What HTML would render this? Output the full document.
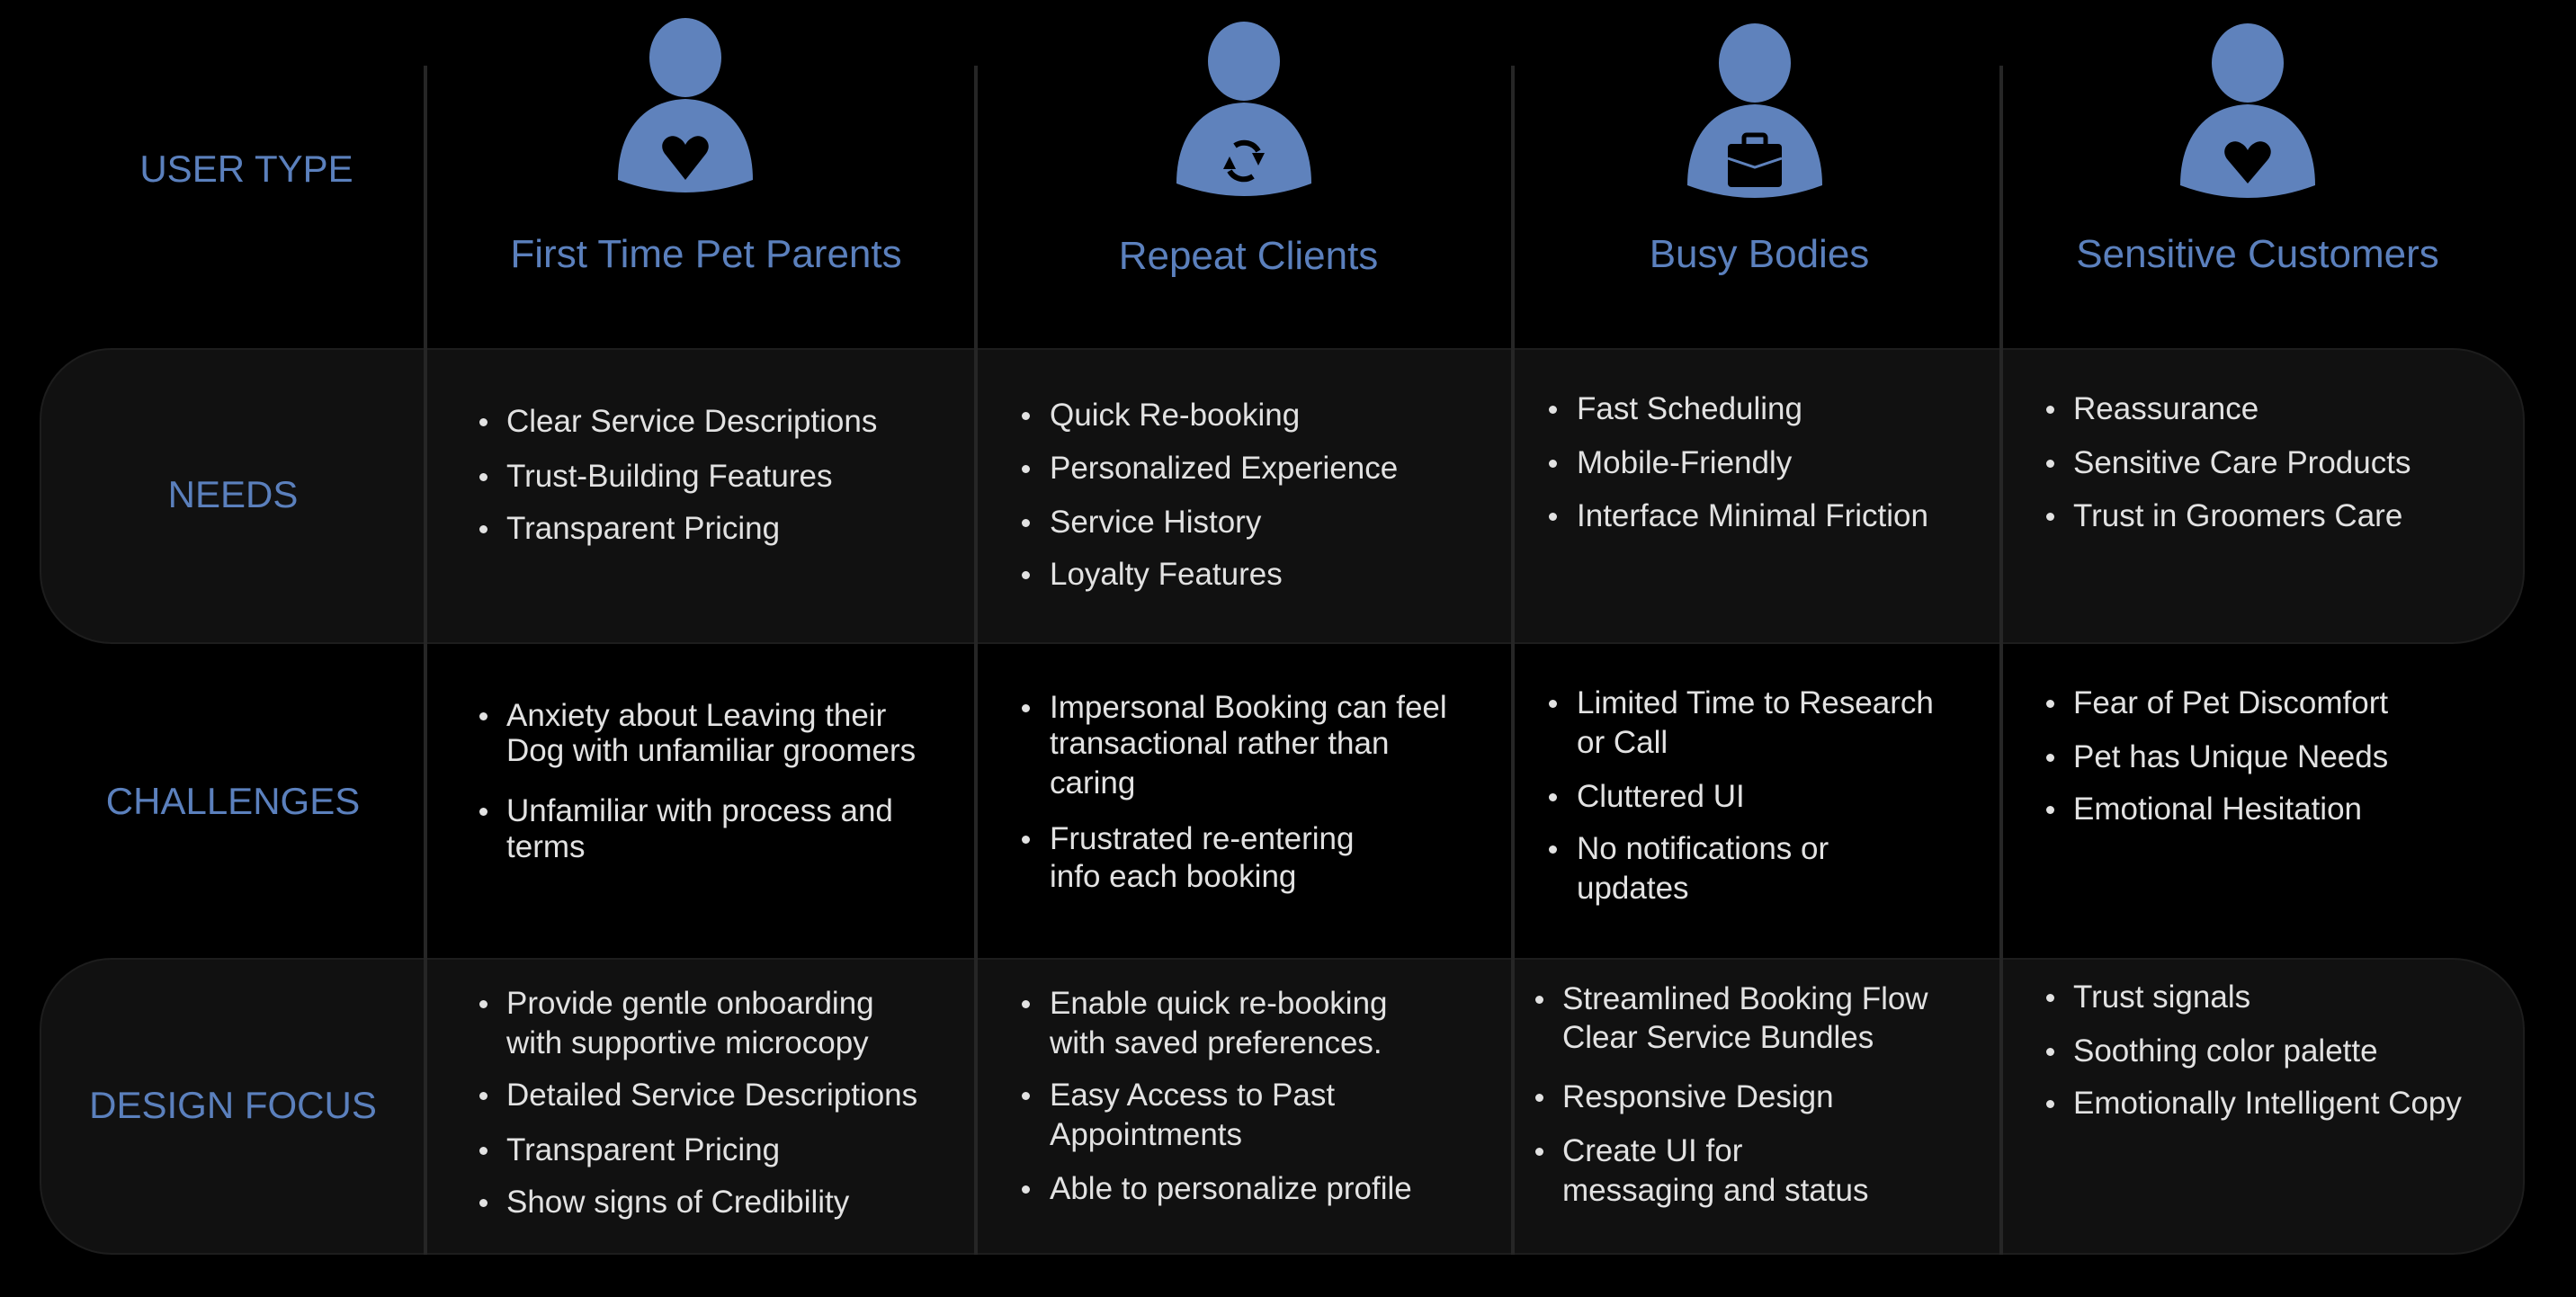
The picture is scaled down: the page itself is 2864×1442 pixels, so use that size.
<!DOCTYPE html>
<html><head><meta charset="utf-8"><style>
*{margin:0;padding:0;box-sizing:border-box}
body{width:2864px;height:1442px;background:#000;position:relative;overflow:hidden;font-family:"Liberation Sans",sans-serif}
.panel{position:absolute;left:44px;width:2763px;background:#111;border:2px solid #1d1d1d;border-radius:80px}
.vl{position:absolute;width:4px;background:#262626;top:73px;height:1322px}
.lab{position:absolute;color:#5b80bd;font-size:42px;transform:translate(-50%,-50%);white-space:nowrap}
.nm{position:absolute;color:#5b80bd;font-size:44px;transform:translate(-50%,-50%);white-space:nowrap}
.t{position:absolute;color:#e2e2e2;font-size:35px;height:50px;line-height:50px;white-space:nowrap}
.b{position:absolute;width:9px;height:9px;border-radius:50%;background:#e2e2e2}
</style></head><body>
<div class="panel" style="top:387px;height:329px"></div>
<div class="panel" style="top:1065px;height:330px"></div>
<div class="vl" style="left:471px"></div>
<div class="vl" style="left:1083px"></div>
<div class="vl" style="left:1680px"></div>
<div class="vl" style="left:2223px"></div>

<div class="lab" style="left:274px;top:188px">USER TYPE</div>
<div class="lab" style="left:259px;top:550px">NEEDS</div>
<div class="lab" style="left:259px;top:891px">CHALLENGES</div>
<div class="lab" style="left:259px;top:1229px">DESIGN FOCUS</div>

<svg width="2864" height="240" style="position:absolute;left:0;top:0">
<defs><g id="p"><ellipse cx="0" cy="64" rx="40" ry="44" fill="#5f82bc"/><path d="M-75,200 C-75,150 -50,112 0,110 C50,112 75,150 75,200 Q0,228 -75,200Z" fill="#5f82bc"/></g></defs>
<use href="#p" x="762" y="0"/>
<path d="M762,200 L740,172 C730,160 742,148 752,152 C757,154 760,157 762,161 C764,157 767,154 772,152 C782,148 794,160 784,172Z" fill="#000"/>
<use href="#p" x="1383" y="4"/>
<g fill="none" stroke="#000" stroke-width="6"><path d="M1373,162 A18,18 0 0 1 1399,168"/><path d="M1393,196 A18,18 0 0 1 1367,190"/></g>
<path d="M1392,170 L1406,170 L1399,184Z M1360,188 L1374,188 L1367,174Z" fill="#000"/>
<use href="#p" x="1951" y="6"/>
<rect x="1921" y="160" width="60" height="48" rx="4" fill="#000"/><rect x="1939" y="150" width="24" height="14" rx="3" fill="none" stroke="#000" stroke-width="5"/><path d="M1921,176 L1951,186 L1981,176" stroke="#5f82bc" stroke-width="3" fill="none"/>
<use href="#p" x="2499" y="6"/>
<path d="M2499,204 L2477,178 C2467,166 2479,154 2489,158 C2494,160 2497,163 2499,167 C2501,163 2504,160 2509,158 C2519,154 2531,166 2521,178Z" fill="#000"/>
</svg>

<div class="nm" style="left:785px;top:283px">First Time Pet Parents</div>
<div class="nm" style="left:1388px;top:285px">Repeat Clients</div>
<div class="nm" style="left:1956px;top:283px">Busy Bodies</div>
<div class="nm" style="left:2510px;top:283px">Sensitive Customers</div>

<!-- col1 -->
<div class="b" style="left:533px;top:465px"></div><div class="t" style="left:563px;top:444px">Clear Service Descriptions</div>
<div class="b" style="left:533px;top:526px"></div><div class="t" style="left:563px;top:505px">Trust-Building Features</div>
<div class="b" style="left:533px;top:584px"></div><div class="t" style="left:563px;top:563px">Transparent Pricing</div>
<div class="b" style="left:533px;top:792px"></div><div class="t" style="left:563px;top:771px">Anxiety about Leaving their</div>
<div class="t" style="left:563px;top:810px">Dog with unfamiliar groomers</div>
<div class="b" style="left:533px;top:898px"></div><div class="t" style="left:563px;top:877px">Unfamiliar with process and</div>
<div class="t" style="left:563px;top:917px">terms</div>
<div class="b" style="left:533px;top:1112px"></div><div class="t" style="left:563px;top:1091px">Provide gentle onboarding</div>
<div class="t" style="left:563px;top:1135px">with supportive microcopy</div>
<div class="b" style="left:533px;top:1214px"></div><div class="t" style="left:563px;top:1193px">Detailed Service Descriptions</div>
<div class="b" style="left:533px;top:1275px"></div><div class="t" style="left:563px;top:1254px">Transparent Pricing</div>
<div class="b" style="left:533px;top:1333px"></div><div class="t" style="left:563px;top:1312px">Show signs of Credibility</div>
<!-- col2 -->
<div class="b" style="left:1136px;top:458px"></div><div class="t" style="left:1167px;top:437px">Quick Re-booking</div>
<div class="b" style="left:1136px;top:517px"></div><div class="t" style="left:1167px;top:496px">Personalized Experience</div>
<div class="b" style="left:1136px;top:577px"></div><div class="t" style="left:1167px;top:556px">Service History</div>
<div class="b" style="left:1136px;top:635px"></div><div class="t" style="left:1167px;top:614px">Loyalty Features</div>
<div class="b" style="left:1136px;top:783px"></div><div class="t" style="left:1167px;top:762px">Impersonal Booking can feel</div>
<div class="t" style="left:1167px;top:802px">transactional rather than</div>
<div class="t" style="left:1167px;top:846px">caring</div>
<div class="b" style="left:1136px;top:929px"></div><div class="t" style="left:1167px;top:908px">Frustrated re-entering</div>
<div class="t" style="left:1167px;top:950px">info each booking</div>
<div class="b" style="left:1136px;top:1112px"></div><div class="t" style="left:1167px;top:1091px">Enable quick re-booking</div>
<div class="t" style="left:1167px;top:1135px">with saved preferences.</div>
<div class="b" style="left:1136px;top:1214px"></div><div class="t" style="left:1167px;top:1193px">Easy Access to Past</div>
<div class="t" style="left:1167px;top:1237px">Appointments</div>
<div class="b" style="left:1136px;top:1318px"></div><div class="t" style="left:1167px;top:1297px">Able to personalize profile</div>
<!-- col3 -->
<div class="b" style="left:1722px;top:451px"></div><div class="t" style="left:1753px;top:430px">Fast Scheduling</div>
<div class="b" style="left:1722px;top:511px"></div><div class="t" style="left:1753px;top:490px">Mobile-Friendly</div>
<div class="b" style="left:1722px;top:570px"></div><div class="t" style="left:1753px;top:549px">Interface Minimal Friction</div>
<div class="b" style="left:1722px;top:778px"></div><div class="t" style="left:1753px;top:757px">Limited Time to Research</div>
<div class="t" style="left:1753px;top:801px">or Call</div>
<div class="b" style="left:1722px;top:882px"></div><div class="t" style="left:1753px;top:861px">Cluttered UI</div>
<div class="b" style="left:1722px;top:940px"></div><div class="t" style="left:1753px;top:919px">No notifications or</div>
<div class="t" style="left:1753px;top:963px">updates</div>
<div class="b" style="left:1707px;top:1107px"></div><div class="t" style="left:1737px;top:1086px">Streamlined Booking Flow</div>
<div class="t" style="left:1737px;top:1129px">Clear Service Bundles</div>
<div class="b" style="left:1707px;top:1216px"></div><div class="t" style="left:1737px;top:1195px">Responsive Design</div>
<div class="b" style="left:1707px;top:1276px"></div><div class="t" style="left:1737px;top:1255px">Create UI for</div>
<div class="t" style="left:1737px;top:1299px">messaging and status</div>
<!-- col4 -->
<div class="b" style="left:2275px;top:451px"></div><div class="t" style="left:2305px;top:430px">Reassurance</div>
<div class="b" style="left:2275px;top:511px"></div><div class="t" style="left:2305px;top:490px">Sensitive Care Products</div>
<div class="b" style="left:2275px;top:570px"></div><div class="t" style="left:2305px;top:549px">Trust in Groomers Care</div>
<div class="b" style="left:2275px;top:778px"></div><div class="t" style="left:2305px;top:757px">Fear of Pet Discomfort</div>
<div class="b" style="left:2275px;top:838px"></div><div class="t" style="left:2305px;top:817px">Pet has Unique Needs</div>
<div class="b" style="left:2275px;top:896px"></div><div class="t" style="left:2305px;top:875px">Emotional Hesitation</div>
<div class="b" style="left:2275px;top:1105px"></div><div class="t" style="left:2305px;top:1084px">Trust signals</div>
<div class="b" style="left:2275px;top:1165px"></div><div class="t" style="left:2305px;top:1144px">Soothing color palette</div>
<div class="b" style="left:2275px;top:1223px"></div><div class="t" style="left:2305px;top:1202px">Emotionally Intelligent Copy</div>
</body></html>
